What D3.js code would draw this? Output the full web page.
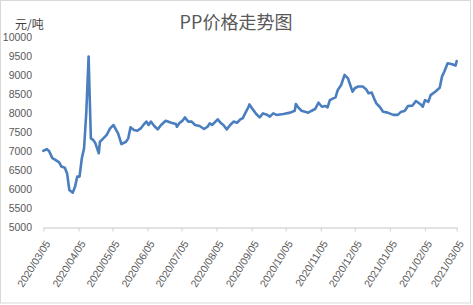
<!DOCTYPE html>
<html>
<head>
<meta charset="utf-8">
<script src="https://cdn.jsdelivr.net/npm/d3@7"></script>
<style>
  body { margin: 0; background: #fff; }
  text { font-family: "Liberation Sans", Arial, sans-serif; fill: #595959; }
</style>
</head>
<body>
<div id="chart"></div>
<script>
// data
const dates = [
  "2020/03/05","2020/03/08","2020/03/10","2020/03/13","2020/03/16","2020/03/19","2020/03/21","2020/03/24",
  "2020/03/26","2020/03/28","2020/03/31","2020/04/02","2020/04/04","2020/04/06","2020/04/08","2020/04/10",
  "2020/04/12","2020/04/14","2020/04/15","2020/04/16","2020/04/18","2020/04/20","2020/04/23","2020/04/24",
  "2020/04/27","2020/04/30","2020/05/03","2020/05/06","2020/05/10","2020/05/13","2020/05/17","2020/05/19",
  "2020/05/21","2020/05/24","2020/05/27","2020/05/30","2020/06/02","2020/06/04","2020/06/06","2020/06/08",
  "2020/06/11","2020/06/14","2020/06/17","2020/06/21","2020/06/26","2020/06/30","2020/07/01","2020/07/03",
  "2020/07/06","2020/07/08","2020/07/11","2020/07/14","2020/07/17","2020/07/21","2020/07/25","2020/07/28",
  "2020/07/30","2020/08/01","2020/08/06","2020/08/09","2020/08/11","2020/08/14","2020/08/17","2020/08/20",
  "2020/08/23","2020/08/26","2020/08/28","2020/08/31","2020/09/02","2020/09/03","2020/09/06","2020/09/09",
  "2020/09/12","2020/09/15","2020/09/19","2020/09/21","2020/09/24","2020/09/27","2020/10/03","2020/10/09",
  "2020/10/13","2020/10/14","2020/10/16","2020/10/19","2020/10/22","2020/10/25","2020/10/28","2020/10/31",
  "2020/11/03","2020/11/06","2020/11/09","2020/11/11","2020/11/13","2020/11/16","2020/11/18","2020/11/20",
  "2020/11/23","2020/11/26","2020/11/29","2020/12/01","2020/12/03","2020/12/05","2020/12/08","2020/12/12",
  "2020/12/15","2020/12/17","2020/12/20","2020/12/22","2020/12/24","2020/12/27","2020/12/30","2021/01/03",
  "2021/01/08","2021/01/12","2021/01/15","2021/01/18","2021/01/21","2021/01/25","2021/01/28","2021/02/01",
  "2021/02/03","2021/02/05","2021/02/08","2021/02/10","2021/02/14","2021/02/18","2021/02/20","2021/02/22",
  "2021/02/25","2021/03/01","2021/03/04","2021/03/05"
];
const prices = [
  7010, 7060, 7010, 6820, 6770, 6710, 6600, 6570,
  6420, 5985, 5915, 6070, 6335, 6335, 6815, 7080,
  8040, 9485, 8390, 7340, 7300, 7210, 6950, 7250,
  7340, 7430, 7600, 7690, 7470, 7190, 7250, 7340,
  7630, 7560, 7540, 7600, 7715, 7780, 7690, 7780,
  7665, 7575, 7690, 7800, 7750, 7715, 7645, 7735,
  7805, 7890, 7780, 7780, 7690, 7665, 7585, 7645,
  7735, 7690, 7840, 7735, 7690, 7575, 7690, 7780,
  7750, 7840, 7865, 8040, 8150, 8230, 8100, 7980,
  7890, 7995, 7955, 7910, 7995, 7955, 7980, 8015,
  8065, 8240, 8155, 8065, 8040, 8015, 8065, 8110,
  8275, 8170, 8190, 8155, 8345, 8390, 8415, 8610,
  8740, 9005, 8915, 8740, 8565, 8655, 8700, 8700,
  8630, 8525, 8540, 8390, 8260, 8170, 8040, 8015,
  7955, 7955, 8040, 8060, 8190, 8200, 8320, 8235,
  8170, 8345, 8300, 8475, 8565, 8670, 8960, 9090,
  9310, 9285, 9250, 9370
];
const xTicks = ["2020/03/05","2020/04/05","2020/05/05","2020/06/05","2020/07/05","2020/08/05",
  "2020/09/05","2020/10/05","2020/11/05","2020/12/05","2021/01/05","2021/02/05","2021/03/05"];
const yTicks = [5000, 5500, 6000, 6500, 7000, 7500, 8000, 8500, 9000, 9500, 10000];

const W = 473, H = 305;
const parse = d3.timeParse("%Y/%m/%d");
const data = dates.map((d, i) => ({date: parse(d), price: prices[i]}));

const svg = d3.select("#chart").append("svg")
  .attr("width", W).attr("height", H);

// chart border
svg.append("rect")
  .attr("x", 0.5).attr("y", 0.5).attr("width", 470).attr("height", 302.5)
  .attr("fill", "#fff").attr("stroke", "#d9d9d9");

const x = d3.scaleTime()
  .domain([parse(xTicks[0]), parse(xTicks[xTicks.length - 1])])
  .range([43.3, 456.7]);
const y = d3.scaleLinear()
  .domain([5000, 10000])
  .range([227.5, 37]);

// title
svg.append("text")
  .attr("x", 236).attr("y", 29)
  .attr("text-anchor", "middle")
  .style("font-family", "'Noto Sans CJK SC', sans-serif")
  .style("font-size", "18px")
  .text("PP价格走势图");

svg.append("text")
  .attr("x", 15).attr("y", 29)
  .style("font-family", "'Noto Sans CJK SC', sans-serif")
  .style("font-size", "12px")
  .style("fill", "#404040")
  .text("元/吨");

// y axis labels (no line)
const yAxis = svg.append("g")
  .attr("transform", "translate(43,0)")
  .call(d3.axisLeft(y).tickValues(yTicks).tickSize(0).tickPadding(11).tickFormat(d3.format("d")));
yAxis.select(".domain").remove();
yAxis.selectAll("text").style("font-size", "10.5px").style("fill", "#595959");

// x axis
const xAxis = svg.append("g")
  .attr("transform", "translate(0,227.5)")
  .call(d3.axisBottom(x).tickValues(xTicks.map(parse)).tickSize(4).tickSizeOuter(0)
    .tickFormat(d3.timeFormat("%Y/%m/%d")));
xAxis.select(".domain").attr("stroke", "#d9d9d9").attr("stroke-width", 1.3);
xAxis.selectAll(".tick line").attr("stroke", "#d9d9d9").attr("stroke-width", 1.3);
xAxis.selectAll("text")
  .style("font-size", "10.5px").style("fill", "#595959")
  .attr("text-anchor", "end")
  .attr("y", 0).attr("dy", "0.35em")
  .attr("transform", "translate(4,14)rotate(-58)");

// price line
svg.append("path")
  .datum(data)
  .attr("fill", "none")
  .attr("stroke", "#4a7ebf")
  .attr("stroke-width", 2.6)
  .attr("stroke-linejoin", "round")
  .attr("stroke-linecap", "round")
  .attr("d", d3.line().x(d => x(d.date)).y(d => y(d.price)));
</script>
</body>
</html>
